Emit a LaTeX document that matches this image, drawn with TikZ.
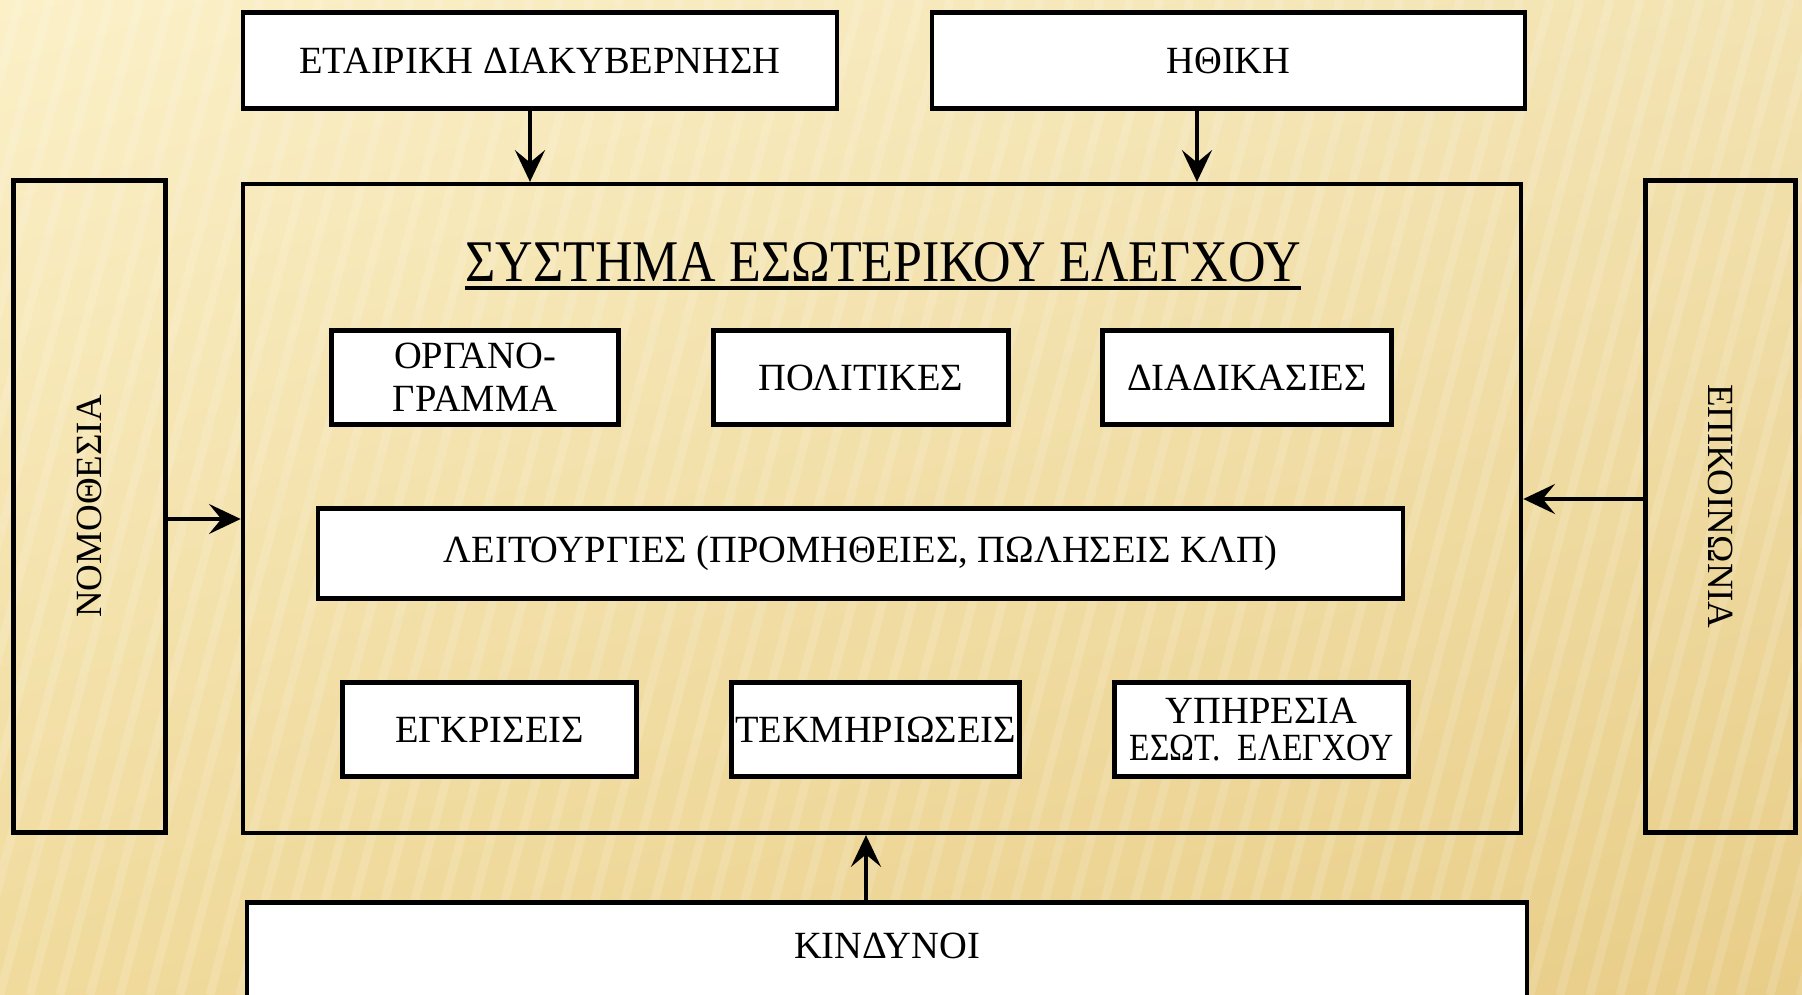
\documentclass[tikz,border=0pt]{standalone}
\usepackage{graphicx}
\usepackage{fontspec}
\setmainfont{Liberation Serif}
\usetikzlibrary{arrows.meta,calc,shadings}
\definecolor{bgA}{HTML}{FBF0C8}
\definecolor{bgB}{HTML}{F3E3B2}
\definecolor{bgC}{HTML}{F0DA9C}
\definecolor{bgD}{HTML}{E8CD88}

\begin{document}
\begin{tikzpicture}[x=0.01cm,y=-0.01cm,
		wbox/.style={draw,fill=white,line width=1.3pt,inner sep=0pt,align=center,font=\fontsize{10.95}{12.2}\selectfont},
		sidebox/.style={draw,line width=1.3pt,inner sep=0pt,minimum height=6.52cm,font=\fontsize{10.5}{12}\selectfont},
		arr/.style={line width=1.2pt,-{Stealth[length=9pt,width=8.5pt,inset=3.5pt]}}]
		\useasboundingbox (0,0) rectangle (1802,995);
		\shade[upper left=bgA,upper right=bgB,lower left=bgC,lower right=bgD] (0,0) rectangle (1802,995);
		\begin{scope}
			\clip (0,0) rectangle (1802,995);
			\foreach \x in {-300,-270,...,1800}
				\draw[white,opacity=0.14,line width=2.5pt] (\x,995) -- (\x+260,0);
		\end{scope}
		% outer influences
		\node[wbox,minimum width=5.94cm,minimum height=0.96cm] (gov) at (540,60.5) {ΕΤΑΙΡΙΚΗ ΔΙΑΚΥΒΕΡΝΗΣΗ};
		\node[wbox,minimum width=5.93cm,minimum height=0.96cm] (eth) at (1228.5,60.5) {ΗΘΙΚΗ};
		\node[sidebox,minimum width=1.52cm] (law) at (89.5,506.5) {\rotatebox{90}{ΝΟΜΟΘΕΣΙΑ}};
		\node[sidebox,minimum width=1.50cm] (comm) at (1720.5,506.5) {\rotatebox{-90}{ΕΠΙΚΟΙΝΩΝΙΑ}};
		\node[wbox,anchor=north,minimum width=12.79cm,text height=0.26cm,text depth=1.0cm,inner ysep=0.3cm] (risk) at (887,900) {ΚΙΝΔΥΝΟΙ};
		% the system
		\node[draw,line width=1.1pt,minimum width=12.78cm,minimum height=6.49cm] (sys) at (882,508.5) {};
		\node[inner sep=0pt,anchor=base,font=\fontsize{16.8}{18}\selectfont] (title) at (883,282) {\scalebox{0.88}[1]{ΣΥΣΤΗΜΑ ΕΣΩΤΕΡΙΚΟΥ ΕΛΕΓΧΟΥ}};
		\draw[line width=1.4pt] ([yshift=-1.7pt]title.base west) -- ([yshift=-1.7pt]title.base east);
		\node[wbox,minimum width=2.87cm,minimum height=0.94cm] (org) at (475,377.5) {ΟΡΓΑΝΟ-\\ΓΡΑΜΜΑ};
		\node[wbox,minimum width=2.95cm,minimum height=0.94cm] (pol) at (861,377.5) {ΠΟΛΙΤΙΚΕΣ};
		\node[wbox,minimum width=2.89cm,minimum height=0.94cm] (proc) at (1247,377.5) {ΔΙΑΔΙΚΑΣΙΕΣ};
		\node[wbox,minimum width=10.84cm,minimum height=0.90cm] (ops) at (860.5,553.5) {ΛΕΙΤΟΥΡΓΙΕΣ (ΠΡΟΜΗΘΕΙΕΣ, ΠΩΛΗΣΕΙΣ ΚΛΠ)};
		\node[wbox,minimum width=2.94cm,minimum height=0.94cm] (appr) at (489.5,729.5) {ΕΓΚΡΙΣΕΙΣ};
		\node[wbox,minimum width=2.88cm,minimum height=0.94cm] (doc) at (875.5,729.5) {ΤΕΚΜΗΡΙΩΣΕΙΣ};
		\node[wbox,minimum width=2.94cm,minimum height=0.94cm] (ia) at (1261.5,729.5) {ΥΠΗΡΕΣΙΑ\\[-1.7pt]\scalebox{0.87}[1]{ΕΣΩΤ.\ \ ΕΛΕΓΧΟΥ}};
		% arrows into the system
		\draw[arr] ([xshift=-0.1cm]gov.south) -- ([xshift=-0.1cm]gov.south |- sys.north);
		\draw[arr] ([xshift=-0.315cm]eth.south) -- ([xshift=-0.315cm]eth.south |- sys.north);
		\draw[arr] ([yshift=-0.125cm]law.east) -- ([yshift=-0.125cm]law.east -| sys.west);
		\draw[arr] ([yshift=0.075cm]comm.west) -- ([yshift=0.075cm]comm.west -| sys.east);
		\draw[arr] ([xshift=-0.21cm]risk.north) -- ([xshift=-0.21cm]risk.north |- sys.south);
	\end{tikzpicture}
\end{document}
